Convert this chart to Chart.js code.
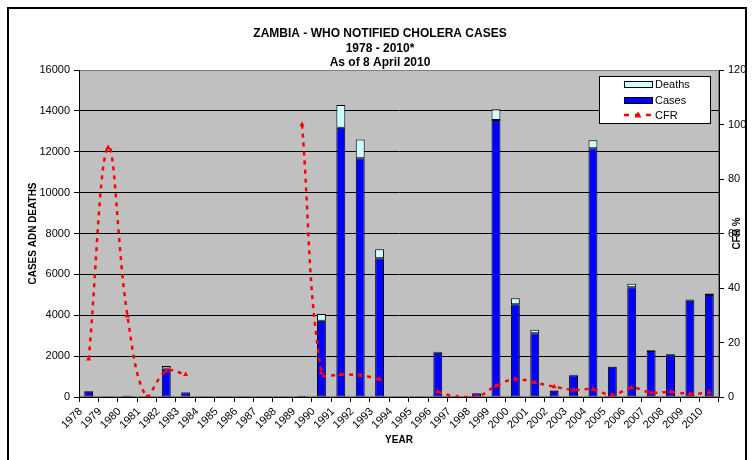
<!DOCTYPE html>
<html>
<head>
<meta charset="utf-8">
<script src="https://cdn.jsdelivr.net/npm/chart.js@4/dist/chart.umd.min.js"></script>
<style>
  html, body { margin: 0; padding: 0; background: #fff; }
  #wrap { width: 753px; height: 460px; position: relative; }
</style>
</head>
<body>
<div id="wrap"><canvas id="chart"></canvas></div>
<script>
// Zambia cholera data, 1978 - 2010
const YEARS = ['1978', '1979', '1980', '1981', '1982', '1983', '1984', '1985', '1986', '1987', '1988',
  '1989', '1990', '1991', '1992', '1993', '1994', '1995', '1996', '1997', '1998', '1999',
  '2000', '2001', '2002', '2003', '2004', '2005', '2006', '2007', '2008', '2009', '2010'];

const CASES = [260, 10, 60, 0, 1400, 220, 0, 0, 0, 0, 0,
  50, 3730, 13180, 11680, 6785, 0, 0, 2170, 10, 180, 13550,
  4535, 3115, 310, 1060, 12170, 1480, 5365, 2250, 2070, 4710, 4990];

const DEATHS = [30, 0, 10, 0, 120, 20, 0, 0, 0, 0, 0,
  10, 330, 1110, 920, 440, 0, 0, 40, 0, 0, 530,
  295, 170, 15, 30, 390, 10, 175, 40, 40, 55, 75];

const CFR = [13.9, 91.6, 29.7, 0, 9.5, 8.3, null, null, null, null, null,
  100, 8.8, 8.3, 8.0, 6.5, null, null, 1.9, 0, 0, 4.0,
  6.6, 5.3, 3.8, 2.6, 2.8, 0.7, 3.4, 1.6, 1.9, 1.1, 1.6];

const TITLE_LINES = ['ZAMBIA - WHO NOTIFIED CHOLERA CASES', '1978 - 2010*', 'As of 8 April 2010'];

const FONT = "'Liberation Sans', Arial, sans-serif";
const COLORS = {
  cases: '#0000ff',
  deaths: '#ccffff',
  cfr: '#ff0000',
  plot: '#c0c0c0',
  text: '#000000',
};

// paints the frame, grey plot area, titles and the boxed legend
const decorations = {
  id: 'decorations',
  beforeDraw(chart) {
    const { ctx, chartArea: a } = chart;
    ctx.save();
    ctx.fillStyle = '#fff';
    ctx.fillRect(0, 0, chart.width, chart.height);
    ctx.fillStyle = COLORS.plot;
    ctx.fillRect(a.left, a.top, a.right - a.left, a.bottom - a.top);
    ctx.strokeStyle = '#808080';
    ctx.lineWidth = 1;
    ctx.strokeRect(a.left + 0.5, a.top + 0.5, a.right - a.left - 1, a.bottom - a.top - 1);
    ctx.restore();
  },
  afterDraw(chart) {
    const { ctx, chartArea: a } = chart;
    ctx.save();
    // outer frame
    ctx.strokeStyle = '#000';
    ctx.lineWidth = 2;
    ctx.strokeRect(8, 8, 738, 470);

    // title
    ctx.fillStyle = COLORS.text;
    ctx.textAlign = 'center';
    ctx.textBaseline = 'middle';
    ctx.font = 'bold 12px ' + FONT;
    TITLE_LINES.forEach((t, i) => ctx.fillText(t, 380, 33.5 + i * 14.8));

    // axis titles
    const cx = (a.left + a.right) / 2;
    ctx.font = 'bold 10px ' + FONT;
    ctx.fillText('YEAR', cx, 440);
    ctx.save();
    ctx.translate(33, (a.top + a.bottom) / 2);
    ctx.rotate(-Math.PI / 2);
    ctx.fillText('CASES ADN DEATHS', 0, 0);
    ctx.restore();
    ctx.save();
    ctx.translate(737, (a.top + a.bottom) / 2);
    ctx.rotate(-Math.PI / 2);
    ctx.fillText('CFR %', 0, 0);
    ctx.restore();

    // legend box
    const lx = 599, ly = 76, lw = 111, lh = 47;
    ctx.fillStyle = '#fff';
    ctx.fillRect(lx, ly, lw, lh);
    ctx.strokeStyle = '#000';
    ctx.lineWidth = 1;
    ctx.strokeRect(lx + 0.5, ly + 0.5, lw, lh);

    ctx.font = '11px ' + FONT;
    ctx.textAlign = 'left';
    const rows = [
      { label: 'Deaths', y: 84, fill: COLORS.deaths },
      { label: 'Cases', y: 100, fill: COLORS.cases },
    ];
    rows.forEach(r => {
      ctx.fillStyle = r.fill;
      ctx.fillRect(624, r.y - 3, 28, 6);
      ctx.strokeStyle = '#000';
      ctx.strokeRect(624.5, r.y - 2.5, 28, 6);
      ctx.fillStyle = COLORS.text;
      ctx.fillText(r.label, 655, r.y + 1);
    });
    // CFR sample line
    ctx.strokeStyle = COLORS.cfr;
    ctx.lineWidth = 2.5;
    ctx.setLineDash([5, 6]);
    ctx.beginPath();
    ctx.moveTo(624, 115);
    ctx.lineTo(652, 115);
    ctx.stroke();
    ctx.setLineDash([]);
    ctx.fillStyle = COLORS.cfr;
    ctx.beginPath();
    ctx.moveTo(638, 111.5);
    ctx.lineTo(641.5, 117.5);
    ctx.lineTo(634.5, 117.5);
    ctx.closePath();
    ctx.fill();
    ctx.fillStyle = COLORS.text;
    ctx.fillText('CFR', 655, 116);
    ctx.restore();
  },
};

const barCommon = {
  type: 'bar',
  borderColor: '#000',
  borderWidth: 1,
  borderSkipped: false,
  barPercentage: 0.5,
  categoryPercentage: 0.92,
  yAxisID: 'y',
  order: 2,
};

const plainNumber = v => String(v);

new Chart(document.getElementById('chart'), {
  data: {
    labels: YEARS,
    datasets: [
      { ...barCommon, label: 'Cases', data: CASES, backgroundColor: COLORS.cases },
      { ...barCommon, label: 'Deaths', data: DEATHS, backgroundColor: COLORS.deaths },
      {
        type: 'line',
        label: 'CFR',
        data: CFR,
        yAxisID: 'y1',
        order: 1,
        borderColor: COLORS.cfr,
        backgroundColor: COLORS.cfr,
        borderWidth: 2.5,
        borderDash: [4, 5],
        tension: 0.4,
        spanGaps: false,
        pointStyle: 'triangle',
        pointRadius: 3,
        pointBorderWidth: 0,
      },
    ],
  },
  options: {
    responsive: true,
    maintainAspectRatio: false,
    animation: false,
    layout: { padding: { top: 70, left: 0, right: 0, bottom: 0 } },
    plugins: {
      legend: { display: false },
      title: { display: false },
      tooltip: { enabled: false },
    },
    scales: {
      x: {
        stacked: true,
        afterFit: s => { s.height = 63; },
        border: { color: '#000', width: 1 },
        grid: { drawOnChartArea: false, drawTicks: true, tickLength: 5, color: '#000', offset: true },
        ticks: {
          autoSkip: false,
          minRotation: 45,
          maxRotation: 45,
          padding: 3,
          labelOffset: -8,
          color: COLORS.text,
          font: { family: FONT, size: 11 },
        },
      },
      y: {
        stacked: true,
        position: 'left',
        min: 0,
        max: 16000,
        afterFit: s => { s.width = 79; },
        border: { color: '#000', width: 1 },
        grid: {
          color: ctx => (ctx.tick && ctx.tick.value === 16000 ? '#808080' : '#000'),
          tickLength: 5,
          tickColor: '#000',
        },
        ticks: {
          stepSize: 2000,
          padding: 4,
          callback: plainNumber,
          color: COLORS.text,
          font: { family: FONT, size: 11 },
        },
      },
      y1: {
        position: 'right',
        min: 0,
        max: 120,
        afterFit: s => { s.width = 34; },
        border: { color: '#000', width: 1 },
        grid: { drawOnChartArea: false, tickLength: 5, color: '#000' },
        ticks: {
          stepSize: 20,
          padding: 4,
          callback: plainNumber,
          color: COLORS.text,
          font: { family: FONT, size: 11 },
        },
      },
    },
  },
  plugins: [decorations],
});
</script>
</body>
</html>
